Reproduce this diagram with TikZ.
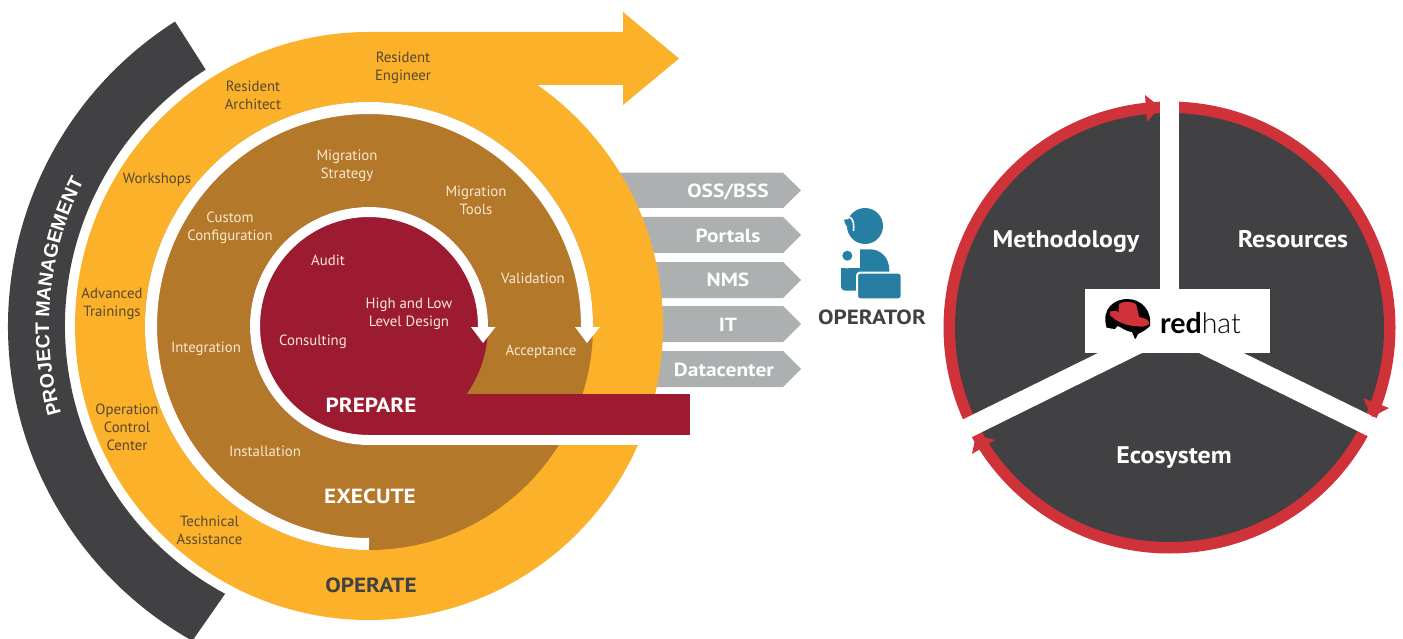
\documentclass[tikz,border=0pt]{standalone}
\usepackage{fontspec}
\setmainfont{PT Sans}
\newfontfamily\arialb{Liberation Sans}
\newfontfamily\lato{Lato}
\newfontfamily\latol{Lato Light}
\newfontfamily\wideb[FakeStretch=1.13]{PT Sans}
\newfontfamily\midb[FakeStretch=1.08]{PT Sans}
\usetikzlibrary{decorations.text,calc}
\definecolor{cyel}{HTML}{FBB12A}
\definecolor{cbrn}{HTML}{B4782A}
\definecolor{cred}{HTML}{9C1B31}
\definecolor{cgry}{HTML}{ADB0B1}
\definecolor{cdrk}{HTML}{414042}
\definecolor{crng}{HTML}{D0323A}
\definecolor{cblu}{HTML}{277EA3}
\definecolor{ctxd}{HTML}{57482F}
\definecolor{ctxl}{HTML}{F8E9CF}
\tikzset{
  small label/.style={align=center,inner sep=0pt,yshift=-2pt,font=\fontsize{14.8}{18}\selectfont},
  onyel/.style={small label,text=ctxd},
  onbrn/.style={small label,text=ctxl},
  phase/.style={inner sep=0pt,font=\wideb\fontsize{20.5}{24}\selectfont\bfseries},
  tag/.style={inner sep=0pt,text=white,font=\wideb\fontsize{19}{23}\selectfont\bfseries},
  pie/.style={inner sep=0pt,text=white,font=\midb\fontsize{24}{28}\selectfont\bfseries},
  grey arrow/.style={fill=cgry,draw=none},
  whiteband/.style={draw=white,line cap=butt},
}
\begin{document}
\begin{tikzpicture}[x=1pt,y=1pt]
\useasboundingbox (0,-639) rectangle (1403,0);
\coordinate (c) at (369,-326);
\coordinate (d) at (1169.5,-327.5);
% grey arrows
\foreach \t/\b in {172.7/208,217/253,262/298,306/342,351/387}{
  \fill[grey arrow] (600,-\t) -- (783,-\t) -- (801,{-(\t+\b)/2}) -- (783,-\b) -- (600,-\b) -- cycle;
}
% project management arc
\fill[cdrk] (c) ++(122.5:361) arc (122.5:240.7:361) -- ($(c)+(241.75:304)$) arc (241.75:122.5:304) -- cycle;
\path[decorate,decoration={text along path,text align={align=center},
  text={|\fontsize{19.5}{22}\arialb\bfseries\color{white}|PROJECT MANAGEMENT}}]
  (c) ++(200.5:320) arc (200.5:148.5:320);
% yellow
\fill[cyel] (c) circle (294);
\fill[cyel] (369,-32) -- (623,-32) -- (623,-12) -- (679,-58.5) -- (623,-105) -- (623,-85) -- (538,-85) -- (369,-200) -- cycle;
% brown
\fill[cbrn] (c) circle (224);
\draw[whiteband,line width=12] (c) ++(270:218) arc (270:0:218) -- ++(0,-1);
\fill[white] (575,-327) -- (600,-327) -- (587,-343) -- cycle;
% red
\fill[cred] (c) circle (119);
\draw[whiteband,line width=10] (c) ++(270:114) arc (270:0:114) -- ++(0,-1);
\fill[white] (471,-327) -- (495.5,-327) -- (483,-343) -- cycle;
\fill[white] (369,-435) rectangle (690,-445);
\fill[cred] (369,-394) rectangle (690,-435);
% operator icon
\fill[cblu] (865,-226) circle (18);
\draw[white,line width=1.6] (849.5,-217) .. controls (854,-219) and (854,-226) .. (853.5,-231);
\fill[cblu] (844,-220) -- (847.5,-219) -- (850.7,-229.5) .. controls (847,-228) and (845,-224) .. (844,-220) -- cycle;
\fill[cblu,rounded corners=4] (841,-290.7) -- (841,-268) -- (860,-268) -- (860,-290.7) -- cycle;
\fill[cblu] (841,-268) -- (860,-268) -- (860,-249.3) -- (870,-249.3) .. controls (881,-249.3) and (889.3,-258) .. (889.3,-270) -- (889.3,-285) -- (855,-285) -- (841,-285) -- cycle;
\fill[white] (847.3,-255.7) circle (12.7);
\fill[white] (835,-243) rectangle (860,-249.3);
\fill[cblu] (847.3,-255.7) circle (5);
\fill[cblu,draw=white,line width=2,rounded corners=3] (857,-272.7) rectangle (901.7,-299.3);
% right pie
\fill[crng] (d) circle (226);
\fill[cdrk] (d) circle (214.5);
\fill[white] (1160,-90) rectangle (1179,-295);
\fill[white] (1243,-352.7) -- (1400,-429.7) -- (1400,-452) -- (1199,-353) -- cycle;
\fill[white] (1098,-353) -- (940,-430.7) -- (940,-452.8) -- (1142,-353) -- cycle;
\fill[white] (1085,-289) rectangle (1270,-352.7);
\fill[crng] (1145,-95) -- (1160,-107) -- (1147,-122) -- cycle;
\fill[crng] (1363,-398) -- (1372,-417) -- (1389,-408) -- cycle;
\fill[crng] (995,-440) -- (976,-435) -- (972,-454) -- cycle;
% logo
\fill[black] (1106.5,-327.5) .. controls (1101,-308) and (1115,-299) .. (1127,-299) .. controls (1142,-299) and (1152,-311) .. (1150,-326)
  .. controls (1146,-330) and (1142,-332) .. (1138,-334) -- (1136,-338) -- (1135,-339) -- (1132,-332) .. controls (1124,-331) and (1120,-326) .. (1117.5,-326) -- (1115,-329) .. controls (1112,-329) and (1109,-328) .. (1106.5,-327.5) -- cycle;
\fill[crng] (1119,-304) .. controls (1124,-301) and (1130,-301) .. (1136,-304) .. controls (1138,-310) and (1138,-313) .. (1139,-317)
  .. controls (1145,-318) and (1150,-320) .. (1149,-324) .. controls (1146,-327) and (1140,-327) .. (1136,-326)
  .. controls (1126,-326) and (1115,-321) .. (1110,-315) .. controls (1109,-312) and (1111,-310) .. (1113,-311) .. controls (1116,-311) and (1118,-311) .. (1118.5,-312) -- cycle;
\node[inner sep=0pt,anchor=base west] (rh) at (1160,-333) {\fontsize{28.5}{31}\selectfont{\lato\bfseries red}{\latol hat}};
% labels
\node[onyel] (re) at (403,-66) {Resident\\Engineer};
\node[onyel] (ra) at (253,-93) {Resident\\Architect};
\node[onyel] (ws) at (157,-178) {Workshops};
\node[onyel] (at) at (112,-302) {Advanced\\Trainings};
\node[onyel] (occ) at (127,-425) {Operation\\Control\\Center};
\node[onyel] (ta) at (209.5,-528) {Technical\\Assistance};
\node[onbrn] (ms) at (347,-164) {Migration\\Strategy};
\node[onbrn] (mt) at (476,-198) {Migration\\Tools};
\node[onbrn] (cc) at (230,-226) {Custom\\Configuration};
\node[onbrn] (val) at (533,-276) {Validation};
\node[onbrn] (acc) at (541,-350) {Acceptance};
\node[onbrn] (int) at (206,-347) {Integration};
\node[onbrn] (ins) at (265,-449) {Installation};
\node[onbrn] (aud) at (328,-258) {Audit};
\node[onbrn] (hl) at (409,-312) {High and Low\\Level Design};
\node[onbrn] (con) at (313,-340) {Consulting};
\node[phase,text=white] (pre) at (371,-405) {PREPARE};
\node[phase,text=white] (exe) at (370,-496) {EXECUTE};
\node[phase,text=cdrk] (ope) at (371,-585) {OPERATE};
\node[tag] (oss) at (728,-192) {OSS/BSS};
\node[tag] (por) at (728,-236) {Portals};
\node[tag] (nms) at (728,-280) {NMS};
\node[tag] (it) at (728,-324.5) {IT};
\node[tag] (dc) at (724,-369.5) {Datacenter};
\node[phase,text=cdrk] (opr) at (872,-317.5) {OPERATOR};
\node[pie] (met) at (1066,-241.5) {Methodology};
\node[pie] (res) at (1293,-239.5) {Resources};
\node[pie] (eco) at (1174,-458) {Ecosystem};
\end{tikzpicture}
\end{document}
